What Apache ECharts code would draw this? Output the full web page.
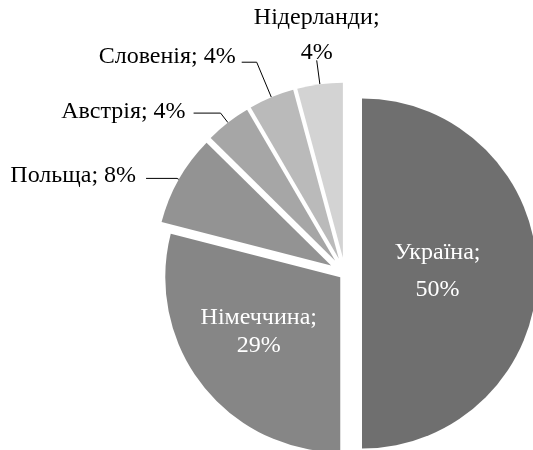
<!DOCTYPE html>
<html><head><meta charset="utf-8">
<script src="https://cdn.jsdelivr.net/npm/echarts@6/dist/echarts.min.js"></script>
<style>html,body{margin:0;padding:0;background:#fff}#c{width:533px;height:450px}</style>
</head><body><div id="c"></div>
<script>
const categories = ['Україна', 'Німеччина', 'Польща', 'Австрія', 'Словенія', 'Нідерланди'];
const values = [50, 29, 8.4, 4.2, 4.2, 4.2];
const colors = ['#6f6f6f', '#868686', '#939393', '#a6a6a6', '#bababa', '#d3d3d3'];
const explode = [17, 6, 16, 16, 16, 16];
const labelTwoLines = [true, true, false, false, false, true];
const labelInside = [true, true, false, false, false, false];
const labelLineLen = [0, 0, 2, 12, 38, 24];
const labelLineLen2 = [0, 0, 31, 27, 15, 0];
const labelGap = [0, 0, 10, 8, 6, 0];
const labelShift = [[-15, -2], [-10, -1], [0, -3], [0, -1], [0, -6], [0, 10]];
const labelAlign = [null, null, null, null, null, 'center'];
const labelVAlign = [null, null, null, null, null, 'bottom'];
const lineHeights = [37, 28, 26, 26, 26, 35];

const FONT = '"Liberation Serif", "Times New Roman", serif';
const chart = echarts.init(document.getElementById('c'), null, {renderer: 'canvas'});

function fmt(i) {
  return function (p) {
    const pct = Math.round(p.percent) + '%';
    return p.name + ';' + (labelTwoLines[i] ? '\n' : ' ') + pct;
  };
}

const series = categories.map((cat, i) => ({
  type: 'pie',
  radius: 175,
  center: [345, 273.5],
  startAngle: 90,
  clockwise: true,
  selectedMode: 'single',
  selectedOffset: explode[i],
  avoidLabelOverlap: false,
  silent: true,
  animation: false,
  z: 2 + i,
  label: {
    show: true,
    position: labelInside[i] ? 'inside' : 'outside',
    formatter: fmt(i),
    fontFamily: FONT,
    fontSize: 24,
    lineHeight: lineHeights[i],
    color: labelInside[i] ? '#ffffff' : '#000000',
    distanceToLabelLine: labelGap[i]
  },
  labelLine: {
    show: !labelInside[i],
    length: labelLineLen[i],
    length2: labelLineLen2[i],
    lineStyle: {color: '#000000', width: 1}
  },
  labelLayout: function () {
    const o = {dx: labelShift[i][0], dy: labelShift[i][1], hideOverlap: false};
    if (labelAlign[i]) o.align = labelAlign[i];
    if (labelVAlign[i]) o.verticalAlign = labelVAlign[i];
    return o;
  },
  emphasis: {disabled: true},
  data: categories.map((name, j) => ({
    name: name,
    value: values[j],
    selected: j === i,
    itemStyle: {color: j === i ? colors[j] : 'rgba(0,0,0,0)', borderWidth: 0},
    label: {show: j === i},
    labelLine: {show: j === i && !labelInside[i]}
  }))
}));

chart.setOption({
  backgroundColor: '#ffffff',
  animation: false,
  series: series
});
</script>
</body></html>
